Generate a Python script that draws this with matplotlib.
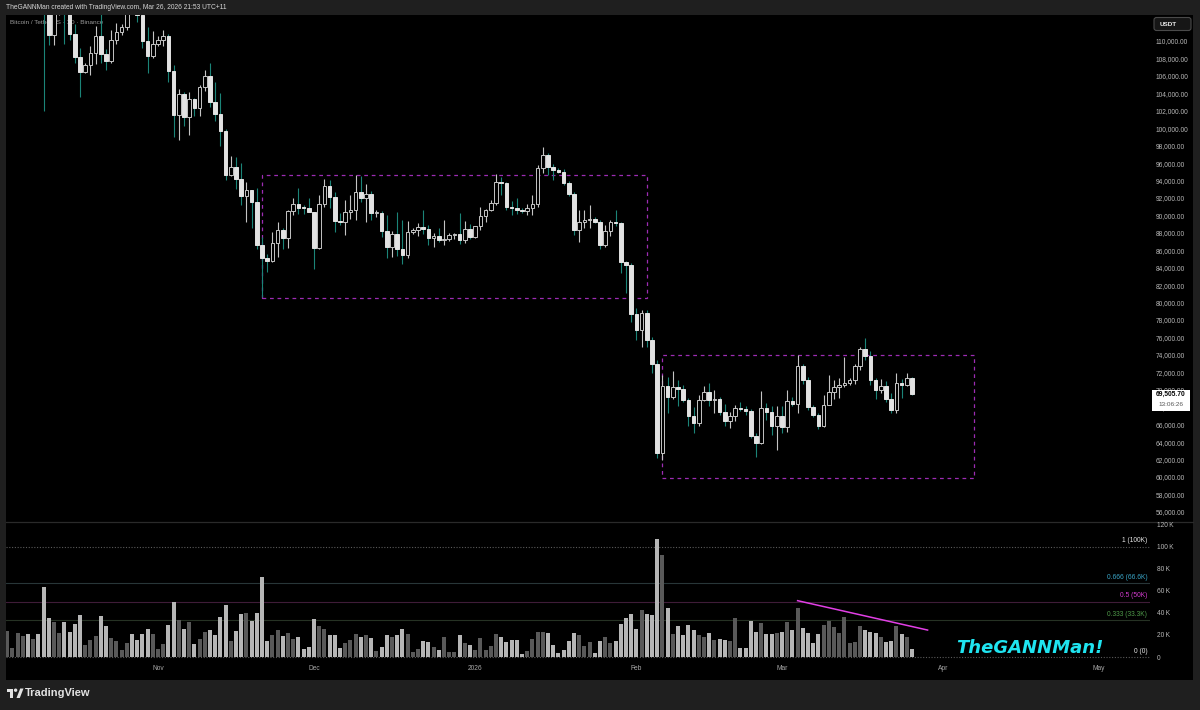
import matplotlib
matplotlib.use('Agg')
import matplotlib.pyplot as plt
import numpy as np
import pandas as pd
from matplotlib.patches import Rectangle, FancyBboxPatch, Circle, Polygon
from matplotlib import transforms

plt.rcParams['font.family'] = ['Liberation Sans', 'DejaVu Sans']

# ---------------- data ----------------
start_date = '2025-10-03'

opens = [
    120530, 122232, 122391, 123482, 124658, 121332, 123306, 121662, 113214, 110644,
    115166, 115271, 113118, 110763, 108186, 106467, 107198, 108666, 110588, 108476,
    107688, 110069, 111033, 111641, 114472, 114119, 112956, 110055, 108305,
    109608, 110098, 110540, 106583, 101497, 103891, 101300, 103372, 102282, 104719,
    105996, 102997, 101663, 99693, 94594, 95550, 94177, 92215, 92960, 91555,
    86637, 85129, 84739, 86830, 88300, 87370, 90484, 91333, 90890, 90802,
    90360, 86286, 91277, 93429, 92078, 89330, 89237, 90405, 90636, 92691,
    92020, 92511, 90270, 90298, 88170, 86419, 87843, 86143, 85462, 88103,
    88344, 88621, 88490, 87414, 87611, 87234, 87301, 87802, 87835, 87138, 88430,
    87508, 88731, 89944, 90603, 91413, 93883, 93720, 91000, 90800, 90600,
    90500, 90900, 91300, 95400, 96900, 95500, 95200, 95000, 93700, 92500,
    88300, 89300, 89500, 89600, 89200, 86600, 88200, 89300, 89100, 84600, 84300,
    78700, 76900, 78800, 75700, 73000, 62800, 70400, 69200, 70300, 70100,
    68800, 67000, 66200, 68800, 69800, 68800, 68900, 67400, 66400, 67000,
    67900, 67800, 67600, 64700, 63900, 67900, 67400, 65800,
    67000, 65700, 68700, 68400, 72700, 71100, 68000, 67100, 65800, 68300,
    69800, 70300, 70600, 70800, 71100, 72700, 74700, 73900, 71100, 70000,
    70400, 68900, 67700, 70800, 70600, 71300,
]
highs = [
    123894, 122896, 125708, 126199, 125126, 124197, 123762, 122550, 113435, 115770,
    116000, 115500, 113612, 111966, 109240, 107500, 109450, 111705, 114000, 109074,
    111293, 112104, 111943, 115466, 116400, 116086, 113643, 111592, 111190,
    110564, 111250, 110750, 107299, 104534, 104200, 104096, 103418, 105000, 106670,
    107500, 105333, 104085, 99866, 96846, 96650, 96043, 93836, 92960, 93160,
    87498, 85620, 88127, 89228, 88519, 90656, 91950, 93092, 91165, 91969,
    90417, 92307, 94150, 94080, 92692, 90289, 91760, 92287, 94588, 94476,
    93555, 92754, 90635, 90472, 90052, 88175, 90365, 89477, 89399, 88573,
    89081, 90588, 88940, 87966, 88500, 89500, 87999, 88000, 90300, 89400, 89000,
    88800, 90961, 90738, 91800, 94789, 94400, 93800, 91600, 92000, 90800,
    91300, 92300, 95800, 97900, 97200, 95900, 95400, 95300, 93900, 92700,
    90600, 90600, 91200, 89800, 89500, 88900, 89500, 90600, 89300, 84800, 84500,
    79400, 79200, 79200, 76000, 73400, 71700, 71500, 72200, 71100, 70600,
    69100, 68000, 69400, 70400, 70800, 70000, 69200, 68400, 67500, 68200,
    68600, 68100, 67800, 65000, 69900, 68500, 68100, 68100,
    68100, 70000, 69200, 74000, 73000, 71500, 68300, 67300, 69400, 71700,
    71100, 71300, 73800, 71300, 73000, 74900, 75900, 74400, 71400, 71200,
    71000, 69600, 71900, 71200, 71900, 71500,
]
lows = [
    119248, 121156, 122136, 123084, 120574, 121066, 119651, 102000, 109561, 109565,
    113025, 109684, 110164, 107427, 103528, 106322, 106103, 107402, 107473, 106666,
    107500, 109700, 110700, 111260, 114000, 112211, 109200, 106304, 108000,
    109394, 109471, 105306, 98944, 98650, 100300, 99260, 101450, 101400, 104265,
    102477, 100813, 98000, 94012, 94555, 93005, 91220, 89253, 88608, 86100,
    80600, 83500, 84667, 85272, 86116, 86306, 90089, 90180, 90155, 90336,
    83822, 86184, 90990, 90889, 88056, 88908, 87719, 89612, 89500, 91563,
    89260, 89480, 89766, 87577, 85147, 85266, 85314, 84450, 85110, 87836,
    87600, 87900, 86601, 86390, 86970, 86655, 87050, 87250, 86700, 86800, 87300,
    87400, 88380, 89300, 90500, 91200, 92300, 90600, 90050, 90200, 90300,
    90000, 90100, 91000, 94900, 94600, 94100, 94900, 93500, 92200, 87800,
    87000, 88500, 88500, 89100, 86100, 86400, 87600, 88800, 83400, 81100, 77800,
    75700, 74900, 74900, 71900, 62200, 62000, 67300, 68900, 68100, 68600,
    65800, 65000, 65800, 68700, 68100, 67300, 67100, 65800, 65600, 66400,
    67600, 67100, 64500, 62300, 63800, 66500, 64800, 63100,
    65000, 65200, 68100, 67300, 70700, 67700, 66900, 65500, 65700, 68200,
    68900, 69100, 70300, 70600, 70700, 72300, 73400, 70500, 68900, 69600,
    68600, 67300, 67300, 69100, 70400, 69400,
]
closes = [
    122232, 122391, 123482, 124658, 121332, 123306, 121662, 113214, 110644, 115166,
    115271, 113118, 110763, 108186, 106467, 107198, 108666, 110588, 108476, 107688,
    110069, 111033, 111641, 114472, 114119, 112956, 110055, 108305, 109608,
    110098, 110540, 106583, 101497, 103891, 101300, 103372, 102282, 104719, 105996,
    102997, 101663, 99693, 94594, 95550, 94177, 92215, 92960, 91555, 86637,
    85129, 84739, 86830, 88300, 87370, 90484, 91333, 90890, 90802, 90360,
    86286, 91277, 93429, 92078, 89330, 89237, 90405, 90636, 92691, 92020,
    92511, 90270, 90298, 88170, 86419, 87843, 86143, 85462, 88103, 88344,
    88621, 88490, 87414, 87611, 87234, 87301, 87802, 87835, 87138, 88430, 87508,
    88731, 89944, 90603, 91413, 93883, 93720, 91000, 90800, 90600, 90500,
    90900, 91300, 95400, 96900, 95500, 95200, 95000, 93700, 92500, 88300,
    89300, 89500, 89600, 89200, 86600, 88200, 89300, 89100, 84600, 84300, 78700,
    76900, 78800, 75700, 73000, 62800, 70400, 69200, 70300, 70100, 68800,
    67000, 66200, 68800, 69800, 68800, 68900, 67400, 66400, 67000, 67900,
    67800, 67600, 64700, 63900, 67900, 67400, 65800, 67000,
    65700, 68700, 68400, 72700, 71100, 68000, 67100, 65800, 68300, 69800,
    70300, 70600, 70800, 71100, 72700, 74700, 73900, 71100, 70000, 70400,
    68900, 67700, 70800, 70600, 71300, 69505.7,
]
# volume in thousands of BTC
volumes_k = [
    23.5, 8.4, 21.4, 19.0, 21.1, 16.6, 21.1, 63.7, 35.0, 32.0, 21.7, 31.4, 22.6, 29.6,
    37.7, 10.6, 15.1, 18.7, 36.8, 28.1, 17.2, 14.5, 6.0, 13.0, 21.1, 15.1, 20.5, 25.6, 21.1,
    7.0, 11.5, 28.7, 50.1, 33.5, 25.6, 31.4, 11.8, 16.0, 22.3, 24.1, 20.2, 36.2, 47.1, 14.5,
    23.5, 38.9, 39.5, 32.3, 39.5, 72.1, 14.2, 19.6, 24.4, 19.0, 21.4, 16.6, 18.4, 7.2, 9.3,
    34.1, 28.1, 25.6, 19.6, 19.6, 8.1, 12.7, 15.4, 21.1, 18.4, 19.6, 16.9, 5.4, 9.0, 19.6,
    18.1, 19.6, 25.3, 21.1, 4.5, 7.2, 14.5, 13.6, 9.0, 6.6, 18.1, 4.2, 4.2, 19.6, 12.7, 11.2,
    6.0, 17.2, 6.6, 10.0, 20.5, 18.1, 13.9, 15.4, 15.1, 2.7, 5.1, 16.3, 22.6, 22.6, 21.4,
    10.9, 3.9, 6.6, 14.2, 21.4, 19.9, 10.3, 13.6, 3.9, 14.2, 17.8, 12.7, 14.2, 30.2, 35.0, 39.2,
    25.0, 42.2, 38.6, 38.0, 106.5, 92.3, 44.0, 21.1, 28.4, 19.9, 28.7, 24.1, 19.9, 17.8,
    22.0, 15.1, 16.0, 15.1, 14.2, 35.0, 7.8, 8.1, 32.6, 22.6, 30.5, 20.5, 21.1, 22.0,
    22.9, 31.7, 24.7, 44.6, 25.9, 22.0, 12.7, 21.1, 28.7, 32.3, 26.8, 21.4, 35.9, 12.7,
    13.6, 28.1, 24.1, 22.9, 22.0, 17.8, 13.3, 14.5, 28.1, 20.5, 17.8, 7.5,
]

price_ticks = list(range(56000, 110001, 2000))
volume_ticks = [0, 20, 40, 60, 80, 100, 120]
volume_tick_labels = ['0', '20\u2009K', '40\u2009K', '60\u2009K', '80\u2009K', '100\u2009K', '120\u2009K']
month_tick_dates = ['2025-11-01', '2025-12-01', '2026-01-01', '2026-02-01',
                    '2026-03-01', '2026-04-01', '2026-05-01']
month_tick_labels = ['Nov', 'Dec', '2026', 'Feb', 'Mar', 'Apr', 'May']

box1_dates = ['2025-11-21', '2026-02-03']
box1_prices = [80530, 94630]
box2_dates = ['2026-02-06', '2026-04-07']
box2_prices = [59850, 74000]

trend_dates = ['2026-03-04', '2026-03-29']
trend_vols = [51.0, 24.4]

fib_levels = [100, 66.6, 50, 33.3, 0]
fib_labels = ['1 (100K)', '0.666 (66.6K)', '0.5 (50K)', '0.333 (33.3K)', '0 (0)']

last_time = '13:06:26'
header = 'TheGANNMan created with TradingView.com, Mar 26, 2026 21:53 UTC+11'
title = 'Bitcoin / TetherUS \u00b7 1D \u00b7 Binance'

# ---------------- prep ----------------
ref = pd.Timestamp('2025-11-01')
dates = pd.date_range(start_date, periods=len(closes), freq='D')
x = np.asarray((dates - ref).days, dtype=float)
o = np.array(opens, float); h = np.array(highs, float)
l = np.array(lows, float); c = np.array(closes, float)
v = np.array(volumes_k, float)
up = c >= o

def dx(d):
    return float((pd.Timestamp(d) - ref).days)

W, H = 1200, 710
def fr(pl, pt, pr, pb):
    return [pl / W, 1 - pb / H, (pr - pl) / W, (pb - pt) / H]

fig = plt.figure(figsize=(12, 7.1), dpi=100, facecolor='#1f1f1f')

# background / decorations (pixel coordinates)
bg = fig.add_axes([0, 0, 1, 1], zorder=0)
bg.set_xlim(0, W); bg.set_ylim(H, 0); bg.axis('off')
bg.add_patch(Rectangle((6, 15), 1187, 665, facecolor='#000000', edgecolor='none'))
bg.plot([6, 1193], [522, 522], color='#2a2a2a', lw=0.9)
bg.text(6, 7.5, header, fontsize=4.8, color='#d6d6d6', va='center', ha='left')
bg.text(10, 23, title, fontsize=4.6, color='#9a9a9a', va='center', ha='left')
# footer logo
lc = '#e2e2e2'
bg.add_patch(Rectangle((6.5, 688.5), 6.5, 3, facecolor=lc, edgecolor='none'))
bg.add_patch(Rectangle((10, 688.5), 3, 9.5, facecolor=lc, edgecolor='none'))
bg.add_patch(Circle((15.6, 690.2), 1.7, facecolor=lc, edgecolor='none'))
bg.add_patch(Polygon([(16.5, 698), (19.8, 698), (23.5, 688.5), (20.2, 688.5)],
                     closed=True, facecolor=lc, edgecolor='none'))
bg.text(25, 693.5, 'TradingView', fontsize=8, color=lc, va='center', ha='left',
        fontweight='bold')

# ---------------- price pane ----------------
axp = fig.add_axes(fr(6, 15, 1150, 521), zorder=1)
axv = fig.add_axes(fr(6, 523, 1150, 660), zorder=1, sharex=axp)
for a in (axp, axv):
    a.set_facecolor('none')
    for s in a.spines.values():
        s.set_visible(False)

xl = (-29.23, 190.77)
axp.set_xlim(*xl)
axp.set_ylim(54954, 112982)

UP_EDGE = '#c4c4c4'
DOWN_FILL = '#e2e2e2'
DOWN_WICK = '#1b8478'

axp.vlines(x[up], l[up], h[up], color=UP_EDGE, lw=0.8, zorder=2)
axp.vlines(x[~up], l[~up], h[~up], color=DOWN_WICK, lw=0.8, zorder=2)
body_lo = np.minimum(o, c)
body_h = np.maximum(np.abs(c - o), 110)
axp.bar(x[up], body_h[up], bottom=body_lo[up], width=0.66, facecolor='#000000',
        edgecolor=UP_EDGE, linewidth=0.7, zorder=3)
axp.bar(x[~up], body_h[~up], bottom=body_lo[~up], width=0.66, facecolor=DOWN_FILL,
        edgecolor=DOWN_FILL, linewidth=0.7, zorder=3)

for bd, bp in ((box1_dates, box1_prices), (box2_dates, box2_prices)):
    x1, x2 = dx(bd[0]), dx(bd[1])
    axp.add_patch(Rectangle((x1, bp[0]), x2 - x1, bp[1] - bp[0], fill=False,
                            edgecolor='#9d2cb3', lw=0.9, ls=(0, (3, 3)), zorder=1))

axp.yaxis.tick_right()
axp.set_yticks(price_ticks)
axp.set_yticklabels([f'{p:,.2f}' for p in price_ticks])
axp.tick_params(axis='y', length=0, pad=4.3, labelsize=4.8, labelcolor='#b8b8b8')
axp.tick_params(axis='x', length=0, labelbottom=False)

# last price tag
bt = transforms.blended_transform_factory(axp.transAxes, axp.transData)
last = c[-1]
axp.add_patch(Rectangle((1.0017, last - 1950), 0.0333, 2410, transform=bt,
                        facecolor='#ffffff', edgecolor='none', clip_on=False, zorder=6))
axp.text(1.0184, last, f'{last:,.2f}', transform=bt, ha='center', va='center',
         fontsize=4.8, color='#000000', fontweight='bold', zorder=7, clip_on=False)
axp.text(1.0184, last - 1150, last_time, transform=bt, ha='center', va='center',
         fontsize=4.6, color='#555555', zorder=7, clip_on=False)

# ---------------- volume pane ----------------
axv.set_ylim(-2.7, 121.3)
vcol = np.where(up, '#595959', '#b6b6b6')
axv.bar(x, v, width=0.8, color=vcol, edgecolor='none', zorder=2)

fib_line_colors = ['#5a5a5a', '#283638', '#3f1c38', '#263224', '#5a5a5a']
fib_line_styles = [(0, (1, 1.5)), '-', '-', '-', (0, (1, 1.5))]
fib_text_colors = ['#e6e6e6', '#3aa6c8', '#d43bd0', '#4f9a4a', '#e6e6e6']
bv = transforms.blended_transform_factory(axv.transAxes, axv.transData)
for lev, lab, lcol, lst, tcol in zip(fib_levels, fib_labels, fib_line_colors,
                                     fib_line_styles, fib_text_colors):
    axv.axhline(lev, color=lcol, lw=0.8, ls=lst, zorder=1)
    axv.text(0.9975, lev + 2.2, lab, transform=bv, ha='right', va='bottom',
             fontsize=4.8, color=tcol, zorder=5)

axv.plot([dx(d) for d in trend_dates], trend_vols, color='#e23fe6', lw=1.1, zorder=4)

axv.yaxis.tick_right()
axv.set_yticks(volume_ticks)
axv.set_yticklabels(volume_tick_labels)
axv.tick_params(axis='y', length=0, pad=5, labelsize=4.8, labelcolor='#b8b8b8')
axv.set_xticks([dx(d) for d in month_tick_dates])
axv.set_xticklabels(month_tick_labels)
axv.tick_params(axis='x', length=0, pad=3.4, labelsize=4.8, labelcolor='#a8a8a8')
axv.set_xlim(*xl)

# ---------------- overlay ----------------
ov = fig.add_axes([0, 0, 1, 1], zorder=3)
ov.set_xlim(0, W); ov.set_ylim(H, 0); ov.axis('off')
ov.add_patch(FancyBboxPatch((1154, 17.5), 37, 13, boxstyle='round,pad=0,rounding_size=2.5',
                            facecolor='#161616', edgecolor='#4a4a4a', lw=0.8))
ov.text(1160, 24.2, 'USDT', fontsize=4.6, color='#e8e8e8', va='center', ha='left',
        fontweight='bold')
ov.text(1030, 648, 'TheGANNMan!', fontsize=13, color='#1fe4f0', va='center', ha='center',
        fontweight='bold', style='italic', family=['DejaVu Sans'])

fig.savefig('out.png', dpi=100, facecolor=fig.get_facecolor())
